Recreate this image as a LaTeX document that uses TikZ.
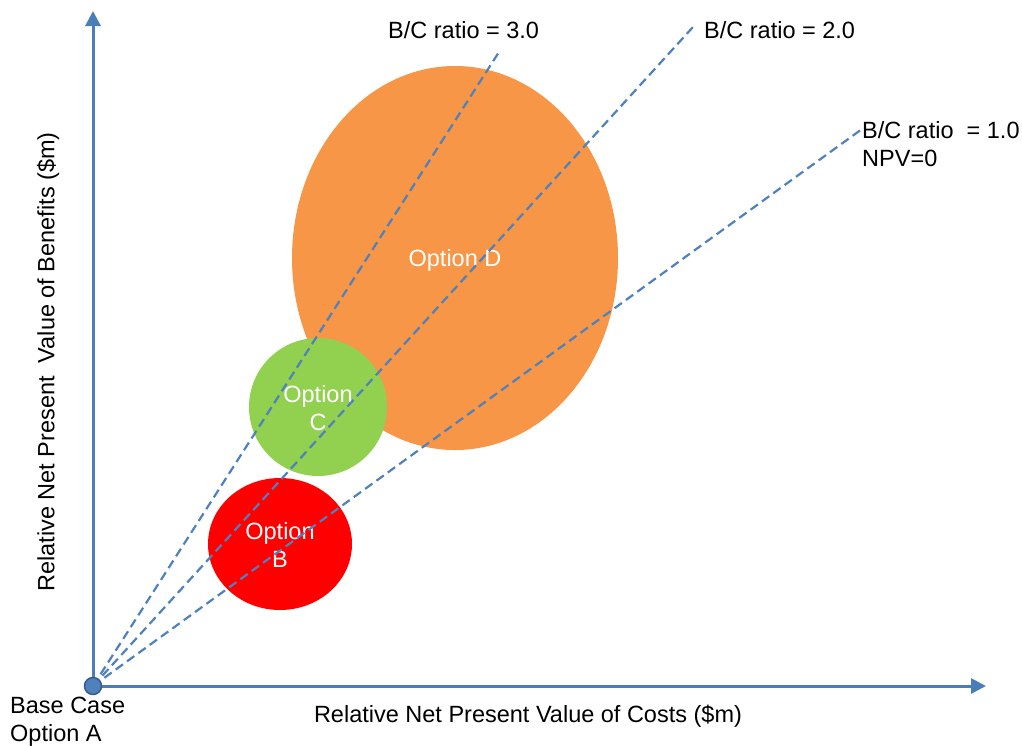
\documentclass[tikz,border=0pt]{standalone}
\usepackage{fontspec}
\setmainfont{Liberation Sans}
\usetikzlibrary{arrows.meta}
\definecolor{axisblue}{HTML}{4A7EBB}
\definecolor{lineblue}{HTML}{4F81BD}
\definecolor{dotedge}{HTML}{385D8A}
\definecolor{optD}{HTML}{F79646}
\definecolor{optC}{HTML}{92D050}
\definecolor{optB}{HTML}{FF0000}
\begin{document}
\begin{tikzpicture}[x=1pt,y=-1pt,
  axis/.style={draw=axisblue,line width=3pt,-{Triangle[width=15pt,length=15pt]}},
  ratio/.style={draw=lineblue,line width=2.2pt,dash pattern=on 9pt off 5pt},
  lbl/.style={font=\fontsize{23.5}{28}\selectfont,inner sep=0pt},
  inlbl/.style={lbl,text=white,align=center}]
\useasboundingbox (0,0) rectangle (1022,745);
% options
\fill[optD] (455,258) ellipse [x radius=163, y radius=192];
\fill[optC] (318,407) circle [radius=69];
\fill[optB] (280,544) ellipse [x radius=72, y radius=66];
\node[inlbl] (lD) at (455,260) {Option D};
\node[inlbl] (lC) at (318,408) {Option\\C};
\node[inlbl] (lB) at (280,545) {Option\\B};
% origin and axes
\coordinate (O) at (93,686);
\coordinate (ytip) at (93,11);
\coordinate (xtip) at (986,686);
\draw[axis] (O) -- (ytip);
\draw[axis] (O) -- (xtip);
% ratio lines
\coordinate (r3) at (499,52);
\coordinate (r2) at (693,27);
\coordinate (r1) at (862,129);
\draw[ratio] (O) -- (r3);
\draw[ratio] (O) -- (r2);
\draw[ratio] (O) -- (r1);
\node[draw=dotedge,fill=lineblue,line width=1.5pt,circle,minimum size=17pt,inner sep=0pt] (base) at (O) {};
% labels
\node[lbl,anchor=west] (t3) at (388,30) {B/C ratio = 3.0};
\node[lbl,anchor=west] (t2) at (704,30) {B/C ratio = 2.0};
\node[lbl,anchor=north west,align=left] (t1) at (862,121) {B/C ratio\ \ = 1.0\\NPV=0};
\node[lbl,anchor=north west,align=left] (tb) at (10,697) {Base Case\\Option A};
\node[lbl] (xl) at (528,716) {Relative Net Present Value of Costs (\$m)};
\node[lbl,rotate=90] (yl) at (48,362) {Relative Net Present\ \ Value of Benefits (\$m)};
\end{tikzpicture}
\end{document}
